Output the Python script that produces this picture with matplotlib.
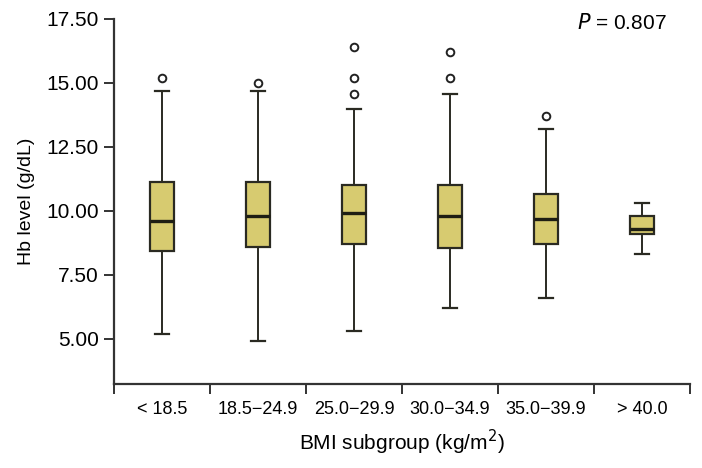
import matplotlib.pyplot as plt

plt.rcParams['font.family'] = ['Liberation Sans', 'DejaVu Sans']

groups = ['< 18.5', '18.5\u221224.9', '25.0\u221229.9', '30.0\u221234.9', '35.0\u221239.9', '> 40.0']
whislo = [5.2, 4.92, 5.32, 6.21, 6.6, 8.32]
q1 = [8.43, 8.59, 8.7, 8.54, 8.71, 9.1]
med = [9.6, 9.82, 9.91, 9.82, 9.7, 9.31]
q3 = [11.12, 11.13, 11.02, 11.0, 10.66, 9.8]
whishi = [14.7, 14.7, 14.0, 14.58, 13.2, 10.3]
fliers = [[15.2], [15.0], [14.58, 15.21, 16.42], [15.21, 16.2], [13.7], []]
p_text = '$P$ = 0.807'

stats = []
for i in range(len(groups)):
    stats.append({'whislo': whislo[i], 'q1': q1[i], 'med': med[i], 'q3': q3[i],
                  'whishi': whishi[i], 'fliers': fliers[i], 'label': groups[i]})

fig = plt.figure(figsize=(7.02, 4.68), dpi=100)
ax = fig.add_axes([114 / 702, 1 - 384 / 468, 576 / 702, 365 / 468])

edge = '#2a2a22'
pos = list(range(len(groups)))
ax.bxp(stats, positions=pos, widths=0.25, patch_artist=True, showfliers=True,
       boxprops=dict(facecolor='#d7cb70', edgecolor=edge, linewidth=1.6),
       medianprops=dict(color='#1e1e14', linewidth=2.4),
       whiskerprops=dict(color=edge, linewidth=1.4),
       capprops=dict(color=edge, linewidth=1.6),
       capwidths=0.14,
       flierprops=dict(marker='o', markerfacecolor='white', markeredgecolor='#222222',
                       markersize=5.5, markeredgewidth=1.4))

ax.set_xlim(-0.5, len(groups) - 0.5)
ax.set_ylim(3.24, 17.5)
ax.set_yticks([5.0, 7.5, 10.0, 12.5, 15.0, 17.5])
ax.set_yticklabels(['5.00', '7.50', '10.00', '12.50', '15.00', '17.50'])

ax.set_xticks([p - 0.5 for p in pos] + [len(groups) - 0.5])
ax.set_xticklabels([])
ax.set_xticks(pos, minor=True)
ax.set_xticklabels(groups, minor=True, fontsize=13)
ax.tick_params(axis='x', which='minor', length=0, pad=12)
ax.tick_params(axis='x', which='major', length=7, width=1.4, color='#333333', direction='out')
ax.tick_params(axis='y', length=7, width=1.4, color='#333333', labelsize=15, pad=4)

for s in ['top', 'right']:
    ax.spines[s].set_visible(False)
for s in ['left', 'bottom']:
    ax.spines[s].set_color('#333333')
    ax.spines[s].set_linewidth(1.6)

ax.set_ylabel('Hb level (g/dL)', fontsize=14, labelpad=8)
ax.set_xlabel('BMI subgroup (kg/m$^2$)', fontsize=15, labelpad=7)
ax.text(0.96, 0.99, p_text, transform=ax.transAxes, ha='right', va='center', fontsize=15)

fig.savefig('out.png', dpi=100)
